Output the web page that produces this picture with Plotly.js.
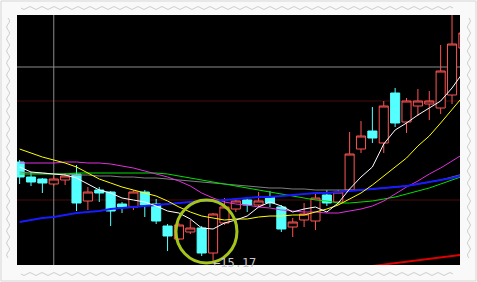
<!DOCTYPE html>
<html><head><meta charset="utf-8">
<script src="https://cdn.plot.ly/plotly-3.0.1.min.js"></script>
<style>html,body{margin:0;padding:0;background:#f9f9f9;overflow:hidden}#chart{width:477px;height:282px}</style>
</head><body><div id="chart"></div>
<script>
// Day index (x positions of the K-line bars)
const dayIndex = Array.from({length: 40}, (_, i) => i);

// OHLC prices
const openP  = [17.17,16.87,16.83,16.73,16.81,16.93,16.39,16.61,16.57,16.33,16.27,16.57,16.33,15.89,15.63,15.77,15.85,15.35,15.95,16.23,16.41,16.31,16.47,16.27,15.87,16.01,15.99,16.51,16.37,16.61,17.43,17.79,17.55,18.55,17.97,18.29,18.33,18.25,18.51,19.45];
const highP  = [17.21,16.97,16.85,16.91,16.95,17.11,16.67,16.67,16.59,16.37,16.61,16.61,16.43,15.93,15.95,16.01,15.89,16.15,16.45,16.43,16.45,16.57,16.59,16.31,16.05,16.35,16.55,16.61,16.61,17.77,17.99,18.27,18.39,18.65,18.45,18.63,18.59,19.51,20.21,20.01];
const lowP   = [16.73,16.69,16.55,16.69,16.71,16.19,16.21,16.37,15.89,16.15,16.21,16.07,15.93,15.39,15.61,15.73,15.29,15.17,15.91,16.17,16.17,16.27,16.27,15.77,15.67,15.87,15.81,16.29,16.31,16.61,17.35,17.55,17.35,17.87,17.75,18.09,18.01,18.13,18.33,19.31];
const closeP = [16.87,16.77,16.75,16.83,16.89,16.35,16.57,16.55,16.19,16.27,16.57,16.31,15.99,15.69,15.91,15.85,15.35,16.13,16.27,16.39,16.31,16.39,16.35,15.83,15.97,16.13,16.45,16.35,16.57,17.33,17.69,17.65,18.29,17.95,18.39,18.39,18.39,18.99,19.53,19.75];

// Moving averages
const ma5   = [17.07,16.97,16.95,16.93,16.91,16.85,16.73,16.61,16.55,16.45,16.41,16.37,16.29,16.19,16.15,16.03,15.85,15.83,15.95,16.01,16.09,16.27,16.37,16.29,16.17,16.23,16.27,16.17,16.35,16.63,16.87,17.07,17.53,17.81,17.95,18.11,18.25,18.39,18.65,18.97];
const ma10  = [17.43,17.35,17.27,17.21,17.15,17.07,16.95,16.83,16.75,16.67,16.61,16.55,16.49,16.39,16.27,16.17,16.09,16.05,16.01,16.03,16.03,16.07,16.09,16.09,16.11,16.11,16.17,16.23,16.31,16.43,16.55,16.71,16.89,17.07,17.25,17.49,17.69,17.95,18.21,18.49];
const ma20  = [17.15,17.15,17.15,17.15,17.17,17.17,17.15,17.15,17.13,17.09,17.05,16.99,16.93,16.87,16.79,16.69,16.55,16.45,16.37,16.33,16.31,16.27,16.25,16.21,16.19,16.17,16.17,16.15,16.15,16.19,16.23,16.29,16.39,16.53,16.67,16.79,16.93,17.05,17.19,17.33];
const ma30  = [16.93,16.93,16.93,16.93,16.93,16.95,16.95,16.95,16.95,16.95,16.95,16.95,16.95,16.93,16.89,16.85,16.81,16.77,16.73,16.69,16.65,16.61,16.57,16.53,16.49,16.45,16.41,16.39,16.35,16.35,16.37,16.39,16.43,16.47,16.53,16.59,16.65,16.73,16.81,16.89];
const ma60  = [16.97,16.95,16.95,16.93,16.93,16.91,16.91,16.89,16.89,16.87,16.87,16.85,16.85,16.83,16.81,16.79,16.77,16.75,16.73,16.71,16.69,16.67,16.65,16.65,16.63,16.63,16.61,16.61,16.61,16.61,16.61,16.63,16.65,16.67,16.69,16.73,16.77,16.81,16.87,16.93];
const ma120 = [15.97,16.01,16.05,16.07,16.11,16.15,16.17,16.19,16.23,16.25,16.27,16.29,16.31,16.33,16.35,16.37,16.39,16.39,16.41,16.43,16.45,16.47,16.47,16.49,16.51,16.53,16.55,16.55,16.57,16.59,16.61,16.63,16.65,16.67,16.69,16.73,16.77,16.81,16.85,16.91];
const ma250 = [null,null,null,null,null,null,null,null,null,null,null,null,null,null,null,null,null,null,null,null,null,null,null,null,null,null,null,null,null,null,null,15.09,15.12,15.15,15.18,15.21,15.24,15.27,15.29,15.32];

// Reference levels and marker label
const crossIdx = 3, crossPrice = 19.07;
const gridLevels = [18.39, 16.41];
const lowLabel = "\u219015.17";
const lowIdx = 17, lowPrice = 15.17;

const traces = [{
  type: 'candlestick', x: dayIndex, open: openP, high: highP, low: lowP, close: closeP,
  increasing: {line: {color: '#ff5454', width: 1}, fillcolor: '#000000'},
  decreasing: {line: {color: '#54ffff', width: 1}, fillcolor: '#54ffff'},
  whiskerwidth: 0, hoverinfo: 'skip', showlegend: false
}];
const maDefs = [
  [ma60, '#808080', 1], [ma30, '#00e000', 1], [ma20, '#e030e0', 1],
  [ma120, '#1a1aff', 2], [ma10, '#ffff00', 1], [ma5, '#ffffff', 1], [ma250, '#e00000', 2]
];
maDefs.forEach(([ys, c, w]) => traces.push({
  type: 'scatter', mode: 'lines', x: dayIndex, y: ys, line: {color: c, width: w},
  hoverinfo: 'skip', showlegend: false, connectgaps: false
}));

// Decorative frame helpers (paper coords from pixel coords)
const L = 17, T = 15, W = 443, H = 250;
function P(px, py) { return ((px - L) / W).toFixed(5) + ',' + ((T + H - py) / H).toFixed(5); }
function waveH(x0, x1, y, a, per) {
  let d = 'M' + P(x0, y);
  for (let x = x0; x + per <= x1 + 0.01; x += per) {
    const h = per / 2;
    d += ' Q' + P(x + h / 2, y + a) + ' ' + P(x + h, y) + ' Q' + P(x + h * 1.5, y - a) + ' ' + P(x + per, y);
  }
  return d;
}
function waveV(y0, y1, x, a, per) {
  let d = 'M' + P(x, y0);
  for (let y = y0; y + per <= y1 + 0.01; y += per) {
    const h = per / 2;
    d += ' Q' + P(x + a, y + h / 2) + ' ' + P(x, y + h) + ' Q' + P(x - a, y + h * 1.5) + ' ' + P(x, y + per);
  }
  return d;
}
const frameColor = '#cdcdcd';
const shapes = [
  {type: 'rect', xref: 'paper', yref: 'paper', x0: (1 - L) / W, x1: (476 - L) / W, y0: (T + H - 281) / H, y1: (T + H - 1) / H,
   line: {color: '#d6d6d6', width: 1}, layer: 'above'},
  {type: 'path', xref: 'paper', yref: 'paper', path: waveH(21, 453, 8, 3, 12), line: {color: frameColor, width: 1}, layer: 'above'},
  {type: 'path', xref: 'paper', yref: 'paper', path: waveH(21, 453, 274, 3, 12), line: {color: frameColor, width: 1}, layer: 'above'},
  {type: 'path', xref: 'paper', yref: 'paper', path: waveV(18, 262, 8, 3, 12), line: {color: frameColor, width: 1}, layer: 'above'},
  {type: 'path', xref: 'paper', yref: 'paper', path: waveV(18, 262, 469, 3, 12), line: {color: frameColor, width: 1}, layer: 'above'},
  // grid levels
  ...gridLevels.map(v => ({type: 'line', xref: 'paper', x0: 0, x1: 1, yref: 'y', y0: v, y1: v,
    line: {color: '#4a0c0c', width: 1}, layer: 'below'})),
  // crosshair
  {type: 'line', xref: 'paper', x0: 0, x1: 1, yref: 'y', y0: crossPrice, y1: crossPrice, line: {color: '#8a8a8a', width: 1}, layer: 'below'},
  {type: 'line', xref: 'x', x0: crossIdx, x1: crossIdx, yref: 'paper', y0: 0, y1: 1, line: {color: '#8a8a8a', width: 1}, layer: 'below'},
  // highlight circle
  {type: 'circle', xref: 'x', yref: 'y', x0: 13.74, x1: 19.10, y0: 15.15, y1: 16.41,
   line: {color: '#a4c41c', width: 3}, layer: 'above'}
];

const layout = {
  width: 477, height: 282,
  margin: {l: L, r: 17, t: T, b: 17, pad: 0},
  paper_bgcolor: '#f9f9f9', plot_bgcolor: '#000000',
  showlegend: false, hovermode: false, dragmode: false,
  boxgap: 0.2, boxgroupgap: 0,
  xaxis: {range: [-0.23, 38.70], showgrid: false, zeroline: false, showticklabels: false, ticks: '',
          showline: false, rangeslider: {visible: false}, fixedrange: true},
  yaxis: {range: [15.11, 20.11], showgrid: false, zeroline: false, showticklabels: false, ticks: '',
          showline: false, fixedrange: true},
  shapes: shapes,
  annotations: [{x: lowIdx, y: lowPrice, xref: 'x', yref: 'y', text: lowLabel, showarrow: false,
    xanchor: 'left', yanchor: 'middle', xshift: -2, yshift: -1,
    font: {family: 'DejaVu Sans Mono, monospace', size: 12, color: '#c4c4c4'}}]
};
Plotly.newPlot('chart', traces, layout, {displayModeBar: false, staticPlot: true});
</script></body></html>
